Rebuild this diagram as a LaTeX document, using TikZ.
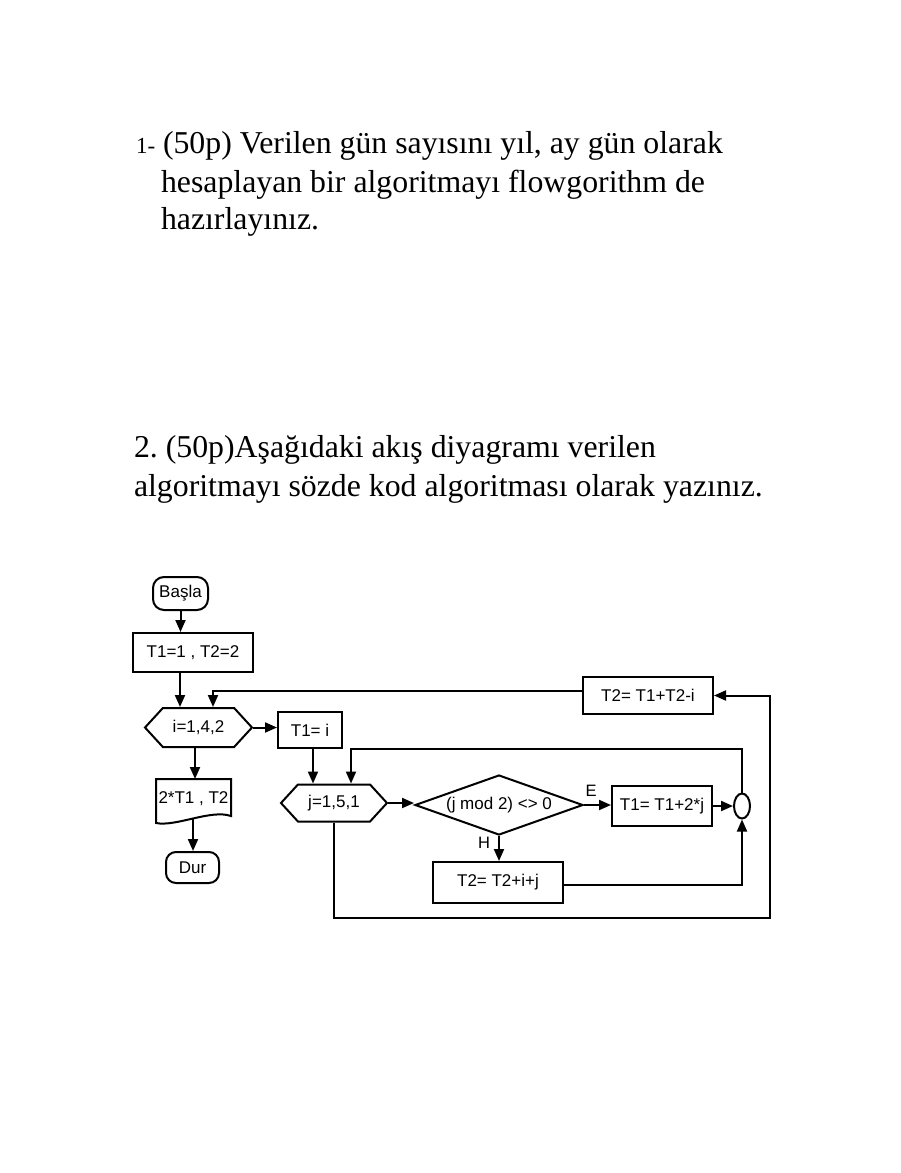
\documentclass[tikz,border=0pt]{standalone}
\usepackage{fontspec}
\setmainfont{Liberation Serif}
\newfontfamily\flowfont{Liberation Sans}
\usetikzlibrary{arrows.meta,shapes.geometric,shapes.symbols,shapes.misc}
\frenchspacing

\begin{document}
\begin{tikzpicture}[x=1pt,y=-1pt,
  line width=2pt,
  arr/.style={-{Triangle[length=12pt,width=10pt]}},
  flow/.style={inner sep=0pt,line width=2pt,font=\flowfont\fontsize{17}{19}\selectfont},
  box/.style={flow,draw,rectangle},
  term/.style={flow,draw,rectangle,rounded corners=11pt},
  loopbox/.style={flow,draw,signal,signal to=west and east,signal pointer angle=95},
  decision/.style={flow,draw,diamond,shape aspect=2.8},
  joint/.style={draw,ellipse,inner sep=0pt,line width=2pt,minimum width=16pt,minimum height=25pt},
  docbox/.style={flow},
  lbl/.style={flow,font=\flowfont\fontsize{16.5}{18}\selectfont},
  head/.style={anchor=base west,inner sep=0pt,font=\fontsize{31.8}{36}\selectfont},
]
\useasboundingbox[fill=white] (0,0) rectangle (900,1173);

% question texts
\node[head,font=\fontsize{23}{26}\selectfont] (q1num) at (135,153) {1-};
\node[head] (q1a) at (162,153) {(50p) Verilen gün sayısını yıl, ay gün olarak};
\node[head] (q1b) at (160,192) {hesaplayan bir algoritmayı flowgorithm de};
\node[head] (q1c) at (160,229) {hazırlayınız.};
\node[head] (q2a) at (133,457) {2. (50p)Aşağıdaki akış diyagramı verilen};
\node[head] (q2b) at (133,496) {algoritmayı sözde kod algoritması olarak yazınız.};

% flowchart nodes
\node[term,minimum width=55pt,minimum height=33pt] (start) at (180.5,593.5) {Başla};
\node[box,minimum width=120pt,minimum height=39pt] (init) at (193,652.5) {T1=1 , T2=2};
\node[loopbox,minimum width=107pt,minimum height=39pt] (iloop) at (198.5,727.5) {i=1,4,2};
\node[box,minimum width=64pt,minimum height=36pt] (t1i) at (310,730) {T1= i};
\node[docbox,minimum width=73pt,minimum height=38pt] (out) at (193.5,799) {2*T1 , T2};
\node[term,minimum width=53pt,minimum height=31pt,rounded corners=10pt] (stop) at (192.5,867.5) {Dur};
\node[loopbox,minimum width=106pt,minimum height=37pt] (jloop) at (334,803) {j=1,5,1};
\node[decision,minimum width=168pt,minimum height=60pt] (cond) at (499,805) {(j mod 2) <> 0};
\node[box,minimum width=100pt,minimum height=40pt] (t1j) at (662,806) {T1= T1+2*j};
\node[box,minimum width=130pt,minimum height=41pt] (t2ij) at (498,882.5) {T2= T2+i+j};
\node[joint] (join) at (742,806) {};
\node[box,minimum width=130pt,minimum height=37pt] (t2b) at (648,695.5) {T2= T1+T2-i};
\coordinate (outer) at (770,918);

% output (document) outline
\draw (out.north west) -- (out.north east) -- ([yshift=3pt]out.south east)
  .. controls ([xshift=-20pt,yshift=10pt]out.south east) and ([xshift=20pt,yshift=-8pt]out.south west)
  .. ([yshift=-4pt]out.south west) -- cycle;

% branch labels
\node[lbl] (lblE) at (591,791) {E};
\node[lbl] (lblH) at (484,843) {H};

% connectors
\draw[arr] (start.south) -- (start.south |- init.north);
\draw[arr] ([xshift=-13pt]init.south) -- ([xshift=-13pt]init.south |- iloop.north);
\draw[arr] (iloop.east) -- (iloop.east -| t1i.west);
\draw[arr] ([xshift=3pt]t1i.south) -- ([xshift=3pt]t1i.south |- jloop.north);
\draw[arr] ([xshift=-3.5pt]iloop.south) -- ([xshift=-3.5pt]iloop.south |- out.north);
\draw[arr] ([xshift=-0.5pt]out.south) -- ([xshift=-0.5pt]out.south |- stop.north);
\draw[arr] (jloop.east) -- (jloop.east -| cond.west);
\draw[arr] (cond.east) -- (cond.east -| t1j.west);
\draw[arr] (cond.south) -- (cond.south |- t2ij.north);
\draw[arr] (t1j.east) -- (join.west);
\draw[arr] ([yshift=-2.5pt]t2ij.east) -| (join.south);
\draw[arr] (join.north) -- ++(0,-44) -| ([xshift=17pt]jloop.north);
\draw[arr] (jloop.south) |- (outer) |- (t2b.east);
\draw[arr] ([yshift=5pt]t2b.west) -| ([xshift=14.5pt]iloop.north);
\end{tikzpicture}
\end{document}
